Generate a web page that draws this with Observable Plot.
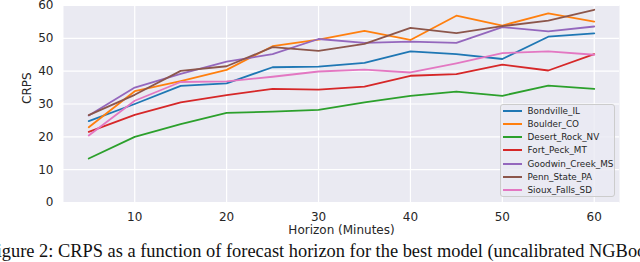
<!DOCTYPE html>
<html>
<head>
<meta charset="utf-8">
<script src="https://cdn.jsdelivr.net/npm/d3@7"></script>
<script src="https://cdn.jsdelivr.net/npm/@observablehq/plot@0.6"></script>
<style>
  html, body { margin: 0; padding: 0; background: #fff; }
  #wrap { position: relative; width: 640px; height: 262px; overflow: hidden; }
  #chart svg { overflow: visible; }
  #legend { position: absolute; left: 500px; top: 104px; width: 115px; height: 93px; box-sizing: border-box;
    border: 1px solid #cccccc; border-radius: 3px; background: rgba(234,234,242,0.8);
    font-family: "DejaVu Sans", sans-serif; font-size: 8.8px; color: #262626; }
  .sw { position: absolute; left: 2px; width: 19px; height: 2px; }
  .lb { position: absolute; left: 26.5px; height: 14px; line-height: 14px; white-space: nowrap; }
  #caption { position: absolute; left: 0; top: 240px; width: 640px; height: 22px; overflow: hidden;
    white-space: nowrap; font-family: "Liberation Serif", "Times New Roman", serif; font-size: 18.4px;
    line-height: 23px; text-indent: -13.6px; color: #111; }
</style>
</head>
<body>
<div id="wrap">
  <div id="chart"></div>
  <div id="legend"></div>
  <div id="caption"></div>
</div>
<script>
const horizons = [5, 10, 15, 20, 25, 30, 35, 40, 45, 50, 55, 60];
const stations = ["Bondville_IL", "Boulder_CO", "Desert_Rock_NV", "Fort_Peck_MT", "Goodwin_Creek_MS", "Penn_State_PA", "Sioux_Falls_SD"];
const colors = ["#1f77b4", "#ff7f0e", "#2ca02c", "#d62728", "#9467bd", "#8c564b", "#e377c2"];
const bondville     = [24.8, 30.0, 35.5, 36.3, 41.2, 41.4, 42.5, 46.0, 45.2, 43.7, 50.5, 51.5];
const boulder       = [22.9, 33.9, 37.0, 40.4, 47.6, 49.6, 52.3, 49.5, 56.9, 53.9, 57.6, 55.1];
const desertRock    = [13.4, 20.0, 23.9, 27.3, 27.7, 28.2, 30.5, 32.5, 33.8, 32.5, 35.6, 34.6];
const fortPeck      = [21.5, 26.7, 30.5, 32.7, 34.6, 34.4, 35.3, 38.6, 39.1, 42.0, 40.2, 45.2];
const goodwinCreek  = [26.5, 35.0, 39.2, 42.9, 45.2, 49.8, 48.6, 49.0, 48.6, 53.4, 52.1, 53.6];
const pennState     = [26.6, 32.8, 40.1, 41.5, 47.3, 46.2, 48.3, 53.2, 51.6, 53.7, 55.4, 58.7];
const siouxFalls    = [20.4, 31.0, 36.7, 36.9, 38.3, 39.9, 40.5, 39.6, 42.4, 45.5, 46.0, 45.0];
const xTicks = [10, 20, 30, 40, 50, 60];
const yTicks = [0, 10, 20, 30, 40, 50, 60];
const xLabel = "Horizon (Minutes)";
const yLabel = "CRPS";
const captionText = "Figure 2: CRPS as a function of forecast horizon for the best model (uncalibrated NGBoost";

const seriesValues = [bondville, boulder, desertRock, fortPeck, goodwinCreek, pennState, siouxFalls];
const data = stations.flatMap((s, i) => horizons.map((h, j) => ({station: s, horizon: h, crps: seriesValues[i][j]})));

const chart = Plot.plot({
  width: 640,
  height: 240,
  marginTop: 5,
  marginRight: 21,
  marginBottom: 38,
  marginLeft: 63,
  style: {fontFamily: "DejaVu Sans", fontSize: "12px", color: "#262626", background: "transparent", overflow: "visible"},
  x: {domain: [2.25, 62.75]},
  y: {domain: [0, 60]},
  color: {domain: stations, range: colors},
  marks: [
    Plot.frame({fill: "#EAEAF2", stroke: null}),
    Plot.gridX({ticks: xTicks, stroke: "#ffffff", strokeOpacity: 1, strokeWidth: 1.2}),
    Plot.gridY({ticks: yTicks, stroke: "#ffffff", strokeOpacity: 1, strokeWidth: 1.2}),
    Plot.axisX({ticks: xTicks, tickSize: 0, tickPadding: 10, label: null}),
    Plot.axisY({ticks: yTicks, tickSize: 0, tickPadding: 10, label: null}),
    Plot.line(data, {x: "horizon", y: "crps", stroke: "station", z: "station", strokeWidth: 1.8}),
    Plot.text([xLabel], {frameAnchor: "bottom", dy: 31, text: d => d, fontSize: 12, fill: "#262626"}),
    Plot.text([yLabel], {frameAnchor: "left", dx: -36, rotate: -90, text: d => d, fontSize: 12, fill: "#262626"})
  ]
});
document.getElementById("chart").appendChild(chart);

const legend = document.getElementById("legend");
stations.forEach((s, i) => {
  const center = 5.7 + i * 13.2; // inside the 1px border
  const sw = document.createElement("div");
  sw.className = "sw";
  sw.style.top = (Math.round(center) - 1) + "px";
  sw.style.background = colors[i];
  const lb = document.createElement("div");
  lb.className = "lb";
  lb.style.top = (center - 7) + "px";
  lb.textContent = s;
  legend.appendChild(sw);
  legend.appendChild(lb);
});
document.getElementById("caption").textContent = captionText;
</script>
</body>
</html>
